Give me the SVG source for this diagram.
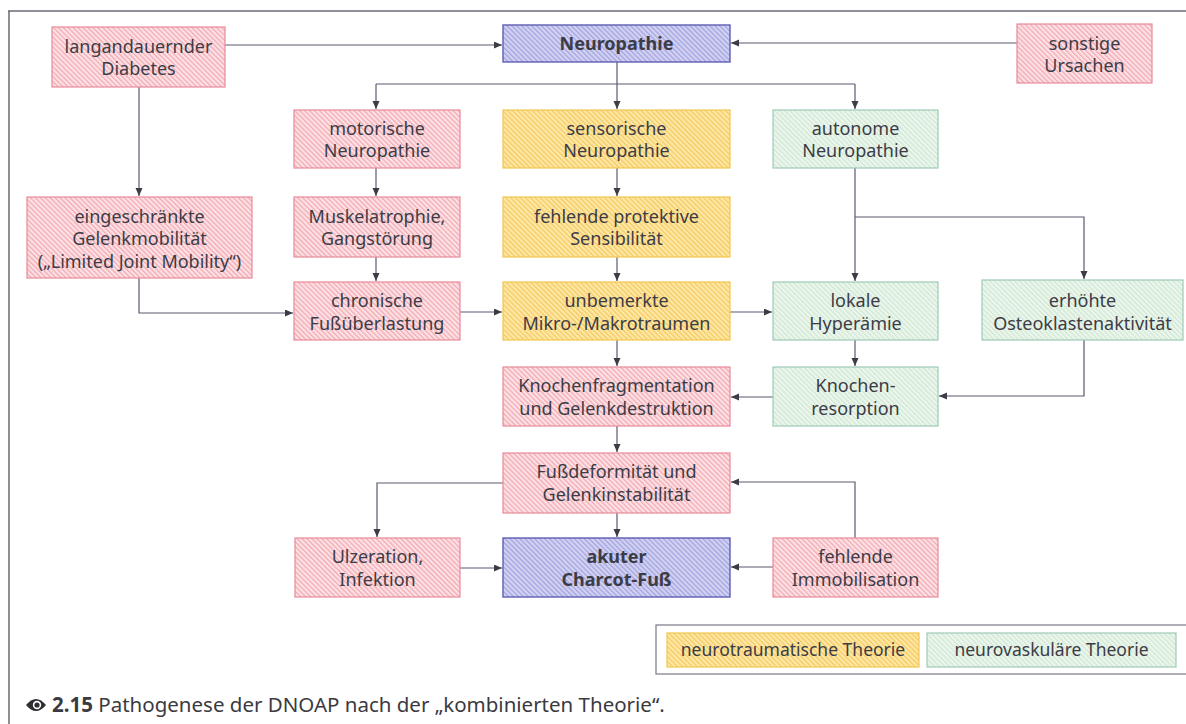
<svg xmlns="http://www.w3.org/2000/svg" width="1186" height="724" viewBox="0 0 1186 724">
<style>
  .t{font-family:"Noto Sans","Liberation Sans",sans-serif;font-size:18px;fill:#3c3c46;text-anchor:middle}
  .b{font-weight:bold}
  .lg{font-size:17.5px}
  .pk{fill:url(#hp);stroke:#e88a98;stroke-width:1.2}
  .ye{fill:url(#hy);stroke:#f2c650;stroke-width:1.2}
  .gr{fill:url(#hg);stroke:#9fcab8;stroke-width:1.2}
  .bl{fill:url(#hb);stroke:#5e5eb4;stroke-width:1.4}
  .c{fill:none;stroke:#5e5870;stroke-width:1.2}
  .ca{font-family:"Noto Sans","Liberation Sans",sans-serif;font-size:20.5px;fill:#3a3a40}
</style>
<defs>
  <pattern id="hp" width="3.5" height="3.5" patternUnits="userSpaceOnUse" patternTransform="rotate(-45)">
    <rect width="3.5" height="3.5" fill="#fce2e5"/><rect width="1.3" height="3.5" fill="#f3aab4"/>
  </pattern>
  <pattern id="hy" width="3.5" height="3.5" patternUnits="userSpaceOnUse" patternTransform="rotate(-45)">
    <rect width="3.5" height="3.5" fill="#fde8a8"/><rect width="1.3" height="3.5" fill="#f6ca60"/>
  </pattern>
  <pattern id="hg" width="3.5" height="3.5" patternUnits="userSpaceOnUse" patternTransform="rotate(-45)">
    <rect width="3.5" height="3.5" fill="#ecf6ed"/><rect width="1.3" height="3.5" fill="#d0e8d4"/>
  </pattern>
  <pattern id="hb" width="3.5" height="3.5" patternUnits="userSpaceOnUse" patternTransform="rotate(-45)">
    <rect width="3.5" height="3.5" fill="#d2d2f2"/><rect width="1.3" height="3.5" fill="#a4a4e0"/>
  </pattern>
  <marker id="ar" markerUnits="userSpaceOnUse" markerWidth="10" markerHeight="8" refX="8" refY="3.5" orient="auto">
    <path d="M0,0 L8,3.5 L0,7 z" fill="#3c3c46"/>
  </marker>
</defs>
<rect width="1186" height="724" fill="#ffffff"/>
<!-- frame -->
<g id="frame">
  <line x1="8" y1="11" x2="1186" y2="11" stroke="#6a6a78" stroke-width="1.5"/>
  <line x1="9" y1="11" x2="9" y2="724" stroke="#6a6a6a" stroke-width="1.5"/>
</g>
<!-- connectors -->
<g id="connectors">
  <path class="c" d="M225,45 H502" marker-end="url(#ar)"/>
  <path class="c" d="M1017,43 H731" marker-end="url(#ar)"/>
  <path class="c" d="M617,62 V84"/>
  <path class="c" d="M376,84 H855"/>
  <path class="c" d="M376,84 V109" marker-end="url(#ar)"/>
  <path class="c" d="M617,84 V109" marker-end="url(#ar)"/>
  <path class="c" d="M855,84 V109" marker-end="url(#ar)"/>
  <path class="c" d="M139,87 V196" marker-end="url(#ar)"/>
  <path class="c" d="M376,168 V196" marker-end="url(#ar)"/>
  <path class="c" d="M617,168 V196" marker-end="url(#ar)"/>
  <path class="c" d="M376,257 V281" marker-end="url(#ar)"/>
  <path class="c" d="M617,257 V281" marker-end="url(#ar)"/>
  <path class="c" d="M139,278 V313 H293" marker-end="url(#ar)"/>
  <path class="c" d="M460,312 H502" marker-end="url(#ar)"/>
  <path class="c" d="M730,312 H772" marker-end="url(#ar)"/>
  <path class="c" d="M855,168 V281" marker-end="url(#ar)"/>
  <path class="c" d="M855,217 H1084 V279" marker-end="url(#ar)"/>
  <path class="c" d="M617,340 V366" marker-end="url(#ar)"/>
  <path class="c" d="M855,340 V366" marker-end="url(#ar)"/>
  <path class="c" d="M773,397 H731" marker-end="url(#ar)"/>
  <path class="c" d="M1084,340 V396 H939" marker-end="url(#ar)"/>
  <path class="c" d="M617,426 V452" marker-end="url(#ar)"/>
  <path class="c" d="M503,483 H377 V537" marker-end="url(#ar)"/>
  <path class="c" d="M855,538 V482 H731" marker-end="url(#ar)"/>
  <path class="c" d="M617,513 V537" marker-end="url(#ar)"/>
  <path class="c" d="M460,568 H502" marker-end="url(#ar)"/>
  <path class="c" d="M773,567 H731" marker-end="url(#ar)"/>
</g>
<!-- nodes -->
<g id="n-diabetes"><rect class="pk" x="52" y="27" width="173" height="60"/>
  <text class="t" x="138.5" y="53">langandauernder</text><text class="t" x="138.5" y="75">Diabetes</text></g>
<g id="n-neuropathie"><rect class="bl" x="503" y="25" width="227" height="37"/>
  <text class="t b" x="616.5" y="50">Neuropathie</text></g>
<g id="n-sonstige"><rect class="pk" x="1017" y="24" width="135" height="59"/>
  <text class="t" x="1084.5" y="50">sonstige</text><text class="t" x="1084.5" y="72">Ursachen</text></g>
<g id="n-motorisch"><rect class="pk" x="294" y="110" width="166" height="58"/>
  <text class="t" x="377" y="135">motorische</text><text class="t" x="377" y="157">Neuropathie</text></g>
<g id="n-sensorisch"><rect class="ye" x="503" y="110" width="227" height="58"/>
  <text class="t" x="616.5" y="135">sensorische</text><text class="t" x="616.5" y="157">Neuropathie</text></g>
<g id="n-autonom"><rect class="gr" x="773" y="110" width="165" height="58"/>
  <text class="t" x="855.5" y="135">autonome</text><text class="t" x="855.5" y="157">Neuropathie</text></g>
<g id="n-gelenkmob"><rect class="pk" x="27" y="197" width="225" height="81"/>
  <text class="t" x="139.5" y="223">eingeschränkte</text><text class="t" x="139.5" y="245">Gelenkmobilität</text><text class="t" x="139.5" y="268">(„Limited Joint Mobility“)</text></g>
<g id="n-muskel"><rect class="pk" x="294" y="197" width="166" height="60"/>
  <text class="t" x="377" y="223">Muskelatrophie,</text><text class="t" x="377" y="245">Gangstörung</text></g>
<g id="n-sensibilitaet"><rect class="ye" x="503" y="197" width="227" height="60"/>
  <text class="t" x="616.5" y="223">fehlende protektive</text><text class="t" x="616.5" y="245">Sensibilität</text></g>
<g id="n-ueberlastung"><rect class="pk" x="294" y="282" width="166" height="58"/>
  <text class="t" x="377" y="307">chronische</text><text class="t" x="377" y="330">Fußüberlastung</text></g>
<g id="n-traumen"><rect class="ye" x="503" y="282" width="227" height="58"/>
  <text class="t" x="616.5" y="307">unbemerkte</text><text class="t" x="616.5" y="330">Mikro-/Makrotraumen</text></g>
<g id="n-hyperaemie"><rect class="gr" x="773" y="282" width="165" height="58"/>
  <text class="t" x="855.5" y="307">lokale</text><text class="t" x="855.5" y="330">Hyperämie</text></g>
<g id="n-osteoklasten"><rect class="gr" x="982" y="280" width="201" height="60"/>
  <text class="t" x="1082.5" y="307">erhöhte</text><text class="t" x="1082.5" y="330">Osteoklastenaktivität</text></g>
<g id="n-fragmentation"><rect class="pk" x="503" y="367" width="227" height="59"/>
  <text class="t" x="616.5" y="392">Knochenfragmentation</text><text class="t" x="616.5" y="415">und Gelenkdestruktion</text></g>
<g id="n-resorption"><rect class="gr" x="773" y="367" width="165" height="59"/>
  <text class="t" x="855.5" y="392">Knochen-</text><text class="t" x="855.5" y="415">resorption</text></g>
<g id="n-deformitaet"><rect class="pk" x="503" y="453" width="227" height="60"/>
  <text class="t" x="616.5" y="478">Fußdeformität und</text><text class="t" x="616.5" y="501">Gelenkinstabilität</text></g>
<g id="n-ulzeration"><rect class="pk" x="295" y="538" width="165" height="59"/>
  <text class="t" x="377.5" y="563">Ulzeration,</text><text class="t" x="377.5" y="586">Infektion</text></g>
<g id="n-charcot"><rect class="bl" x="503" y="538" width="227" height="59"/>
  <text class="t b" x="616.5" y="563">akuter</text><text class="t b" x="616.5" y="586">Charcot-Fuß</text></g>
<g id="n-immobilisation"><rect class="pk" x="773" y="538" width="165" height="59"/>
  <text class="t" x="855.5" y="563">fehlende</text><text class="t" x="855.5" y="586">Immobilisation</text></g>
<!-- legend -->
<g id="legend">
  <rect x="656" y="625" width="540" height="49" fill="#ffffff" stroke="#7a7a88" stroke-width="1.2"/>
  <rect class="ye" x="667" y="633" width="252" height="34"/>
  <text class="t lg" x="793" y="656">neurotraumatische Theorie</text>
  <rect class="gr" x="927" y="633" width="249" height="34"/>
  <text class="t lg" x="1051.5" y="656">neurovaskuläre Theorie</text>
</g>
<!-- caption -->
<g id="caption">
  <path d="M26,705 Q36,693 46,705 Q36,717 26,705 z" fill="#2e2e34"/>
  <circle cx="37" cy="705" r="4.2" fill="#ffffff"/>
  <circle cx="37" cy="705" r="2.6" fill="#2e2e34"/>
  <text class="ca" x="52" y="712"><tspan font-weight="bold">2.15</tspan> Pathogenese der DNOAP nach der „kombinierten Theorie“.</text>
</g>
</svg>
